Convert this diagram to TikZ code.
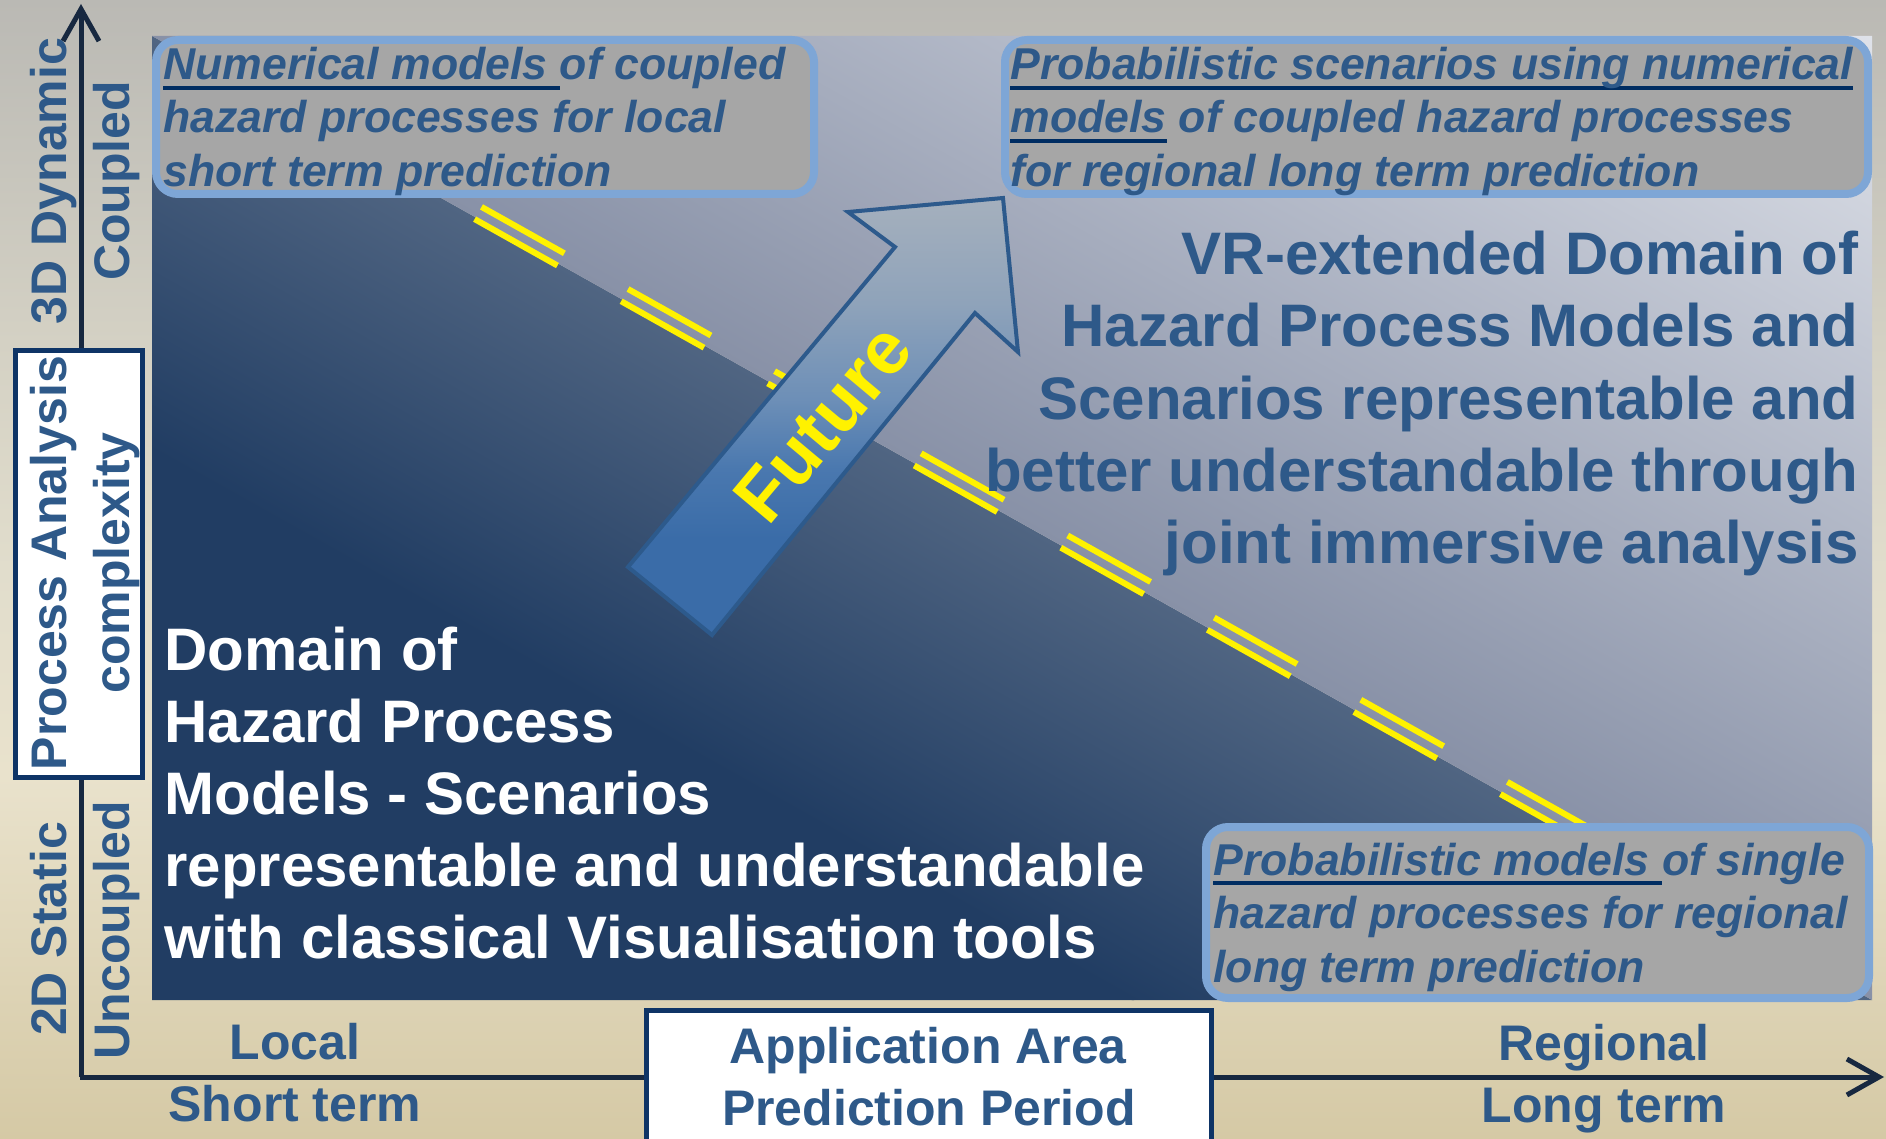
\documentclass[tikz,border=0pt]{standalone}
\usepackage{fontspec}
\setmainfont{Liberation Sans}
\usetikzlibrary{arrows.meta}
\definecolor{midblue}{RGB}{46,89,137}
\definecolor{navyul}{RGB}{0,45,98}
\definecolor{boxgray}{RGB}{166,166,166}
\definecolor{boxedge}{RGB}{126,166,214}
\definecolor{axiscol}{RGB}{23,40,64}
\definecolor{framenavy}{RGB}{14,52,102}
\definecolor{arredge}{RGB}{45,90,140}
\definecolor{bgA}{RGB}{213,201,165}
\definecolor{bgB}{RGB}{233,226,204}
\definecolor{bgC}{RGB}{225,221,204}
\definecolor{bgD}{RGB}{212,209,196}
\definecolor{bgE}{RGB}{186,185,180}
\definecolor{arrlow}{RGB}{58,108,168}
\definecolor{arrmA}{RGB}{74,120,175}
\definecolor{arrmB}{RGB}{109,143,183}
\definecolor{arrmC}{RGB}{143,163,186}
\definecolor{arrhigh}{RGB}{165,176,189}
\definecolor{panLlight}{RGB}{80,101,130}
\definecolor{panLdark}{RGB}{33,61,99}
\definecolor{panUlight}{RGB}{224,227,234}
\definecolor{panUdark}{RGB}{136,145,167}
\pgfdeclareverticalshading{bgsh}{100bp}{color(0bp)=(bgA); color(25bp)=(bgA); color(41bp)=(bgB); color(50bp)=(bgC); color(60bp)=(bgD); color(75bp)=(bgE); color(100bp)=(bgE)}
\pgfdeclareverticalshading{arrsh}{100bp}{color(0bp)=(arrlow); color(25bp)=(arrlow); color(36bp)=(arrlow); color(44bp)=(arrmA); color(52bp)=(arrmB); color(63bp)=(arrmC); color(75bp)=(arrhigh); color(100bp)=(arrhigh)}
\newsavebox\ulbox
\newcommand{\ulpart}[1]{%
  \sbox\ulbox{#1}%
  \leavevmode
  \rlap{\color{navyul}\rule[-5pt]{\wd\ulbox}{2pt}}%
  {\color{navyul}\usebox\ulbox}}
\tikzset{
  lbl/.style={font=\fontsize{25pt}{30pt}\selectfont\bfseries, text=midblue, inner sep=0pt, anchor=base},
  bigtxt/.style={font=\fontsize{30pt}{36pt}\selectfont\bfseries, inner sep=0pt},
  boxtxt/.style={font=\fontsize{22.3pt}{27pt}\selectfont\bfseries\itshape, text=midblue, inner sep=0pt, anchor=base west},
  hbox/.style={rounded corners=11pt, fill=boxgray, draw=boxedge, line width=4pt},
  frame/.style={draw=framenavy, fill=white, line width=2.5pt},
  axis/.style={draw=axiscol, line width=2.5pt, -{Straight Barb[length=16pt, width=18pt]}},
  ydash/.style={draw=yellow, line width=3pt, dash pattern=on 47.5pt off 36.5pt},
}
\begin{document}
\begin{tikzpicture}[x=0.5pt, y=-0.5pt]
\useasboundingbox (0,0) rectangle (1886,1139);
\clip (0,0) rectangle (1886,1139);
% background
\shade[shading=bgsh] (0,0) rectangle (1886,1139);
% axes
\coordinate (O) at (81,1077);
\coordinate (ytip) at (81,4);
\coordinate (xtip) at (1884,1077);
\draw[axis] (O) -- (ytip);
\draw[axis] (80,1077) -- (xtip);
% panel lower-left triangle
\begin{scope}
  \clip (152,36) -- (152,1000) -- (1872,1000) -- cycle;
  \begin{scope}[transform canvas={rotate around={-29.27:(1012,518)}}]
    \shade[top color=panLlight, bottom color=panLdark] (0,518) rectangle (2024,880);
    \fill[panLdark] (0,879) rectangle (2024,1370);
  \end{scope}
\end{scope}
% panel upper-right triangle
\begin{scope}
  \clip (152,36) -- (1872,36) -- (1872,1000) -- cycle;
  \begin{scope}[transform canvas={rotate around={-29.27:(1012,518)}}]
    \shade[top color=panUlight, bottom color=panUdark] (0,-334) rectangle (2024,518);
  \end{scope}
\end{scope}
% yellow double dashed line
\coordinate (ya1) at (474.6,219.1);
\coordinate (ya2) at (1721,917.7);
\coordinate (yb1) at (481.5,206.9);
\coordinate (yb2) at (1727.9,905.5);
\draw[ydash] (ya1) -- (ya2);
\draw[ydash] (yb1) -- (yb2);
% Future arrow
\shadedraw[shading=arrsh, draw=arredge, line width=2pt, line join=miter]
  (628,567) -- (895,247) -- (848,212) -- (1003,198) -- (1018,352) -- (975,313) -- (712,635) -- cycle;
\node[rotate=50, text=yellow, font=\fontsize{37pt}{37pt}\selectfont\bfseries, inner sep=0pt] (fut) at (823,423) {Future};
% boxes
\draw[hbox] (156,40) rectangle (814,194);
\draw[hbox] (1005,40) rectangle (1868,194);
\draw[hbox] (1206,827) rectangle (1869,998);
% box texts
\node[boxtxt] (b1a) at (163,80) {\ulpart{Numerical models\ }of coupled};
\node[boxtxt] (b1b) at (163,133) {hazard processes for local};
\node[boxtxt] (b1c) at (163,187) {short term prediction};
\node[boxtxt] (b2a) at (1010,80) {\ulpart{Probabilistic scenarios using numerical}};
\node[boxtxt] (b2b) at (1010,133) {\ulpart{models} of coupled hazard processes};
\node[boxtxt] (b2c) at (1010,187) {for regional long term prediction};
\node[boxtxt] (b3a) at (1213,875) {\ulpart{Probabilistic models\ }of single};
\node[boxtxt] (b3b) at (1213,928) {hazard processes for regional};
\node[boxtxt] (b3c) at (1213,982) {long term prediction};
% VR text
\node[bigtxt, text=midblue, anchor=base east] (vr1) at (1859,275) {VR-extended Domain of};
\node[bigtxt, text=midblue, anchor=base east] (vr2) at (1859,347) {Hazard Process Models and};
\node[bigtxt, text=midblue, anchor=base east] (vr3) at (1859,419) {Scenarios representable and};
\node[bigtxt, text=midblue, anchor=base east] (vr4) at (1859,491) {better understandable through};
\node[bigtxt, text=midblue, anchor=base east] (vr5) at (1859,563) {joint immersive analysis};
% domain text
\node[bigtxt, text=white, anchor=base west] (d1) at (164,670) {Domain of};
\node[bigtxt, text=white, anchor=base west] (d2) at (164,742) {Hazard Process};
\node[bigtxt, text=white, anchor=base west] (d3) at (164,814) {Models - Scenarios};
\node[bigtxt, text=white, anchor=base west] (d4) at (164,886) {representable and understandable};
\node[bigtxt, text=white, anchor=base west] (d5) at (164,958) {with classical Visualisation tools};
% vertical axis labels
\node[lbl, rotate=90] (l3d) at (66,181) {3D Dynamic};
\node[lbl, rotate=90] (lcp) at (129,181) {Coupled};
\node[lbl, rotate=90] (l2d) at (66,929) {2D Static};
\node[lbl, rotate=90] (luc) at (129,930) {Uncoupled};
\draw[frame] (15.5,350.5) rectangle (142.5,777.5);
\node[lbl, rotate=90] (lpa) at (66,563) {Process Analysis};
\node[lbl, rotate=90] (lcx) at (129.5,563) {complexity};
% horizontal axis labels
\draw[frame] (646.5,1010.5) rectangle (1211.5,1160);
\node[lbl] (lap) at (928,1063) {Application Area};
\node[lbl] (lpp) at (929,1125) {Prediction Period};
\node[lbl] (llo) at (295,1059) {Local};
\node[lbl] (lst) at (295,1121) {Short term};
\node[lbl] (lre) at (1604,1060) {Regional};
\node[lbl] (llt) at (1604,1122) {Long term};
\end{tikzpicture}
\end{document}
